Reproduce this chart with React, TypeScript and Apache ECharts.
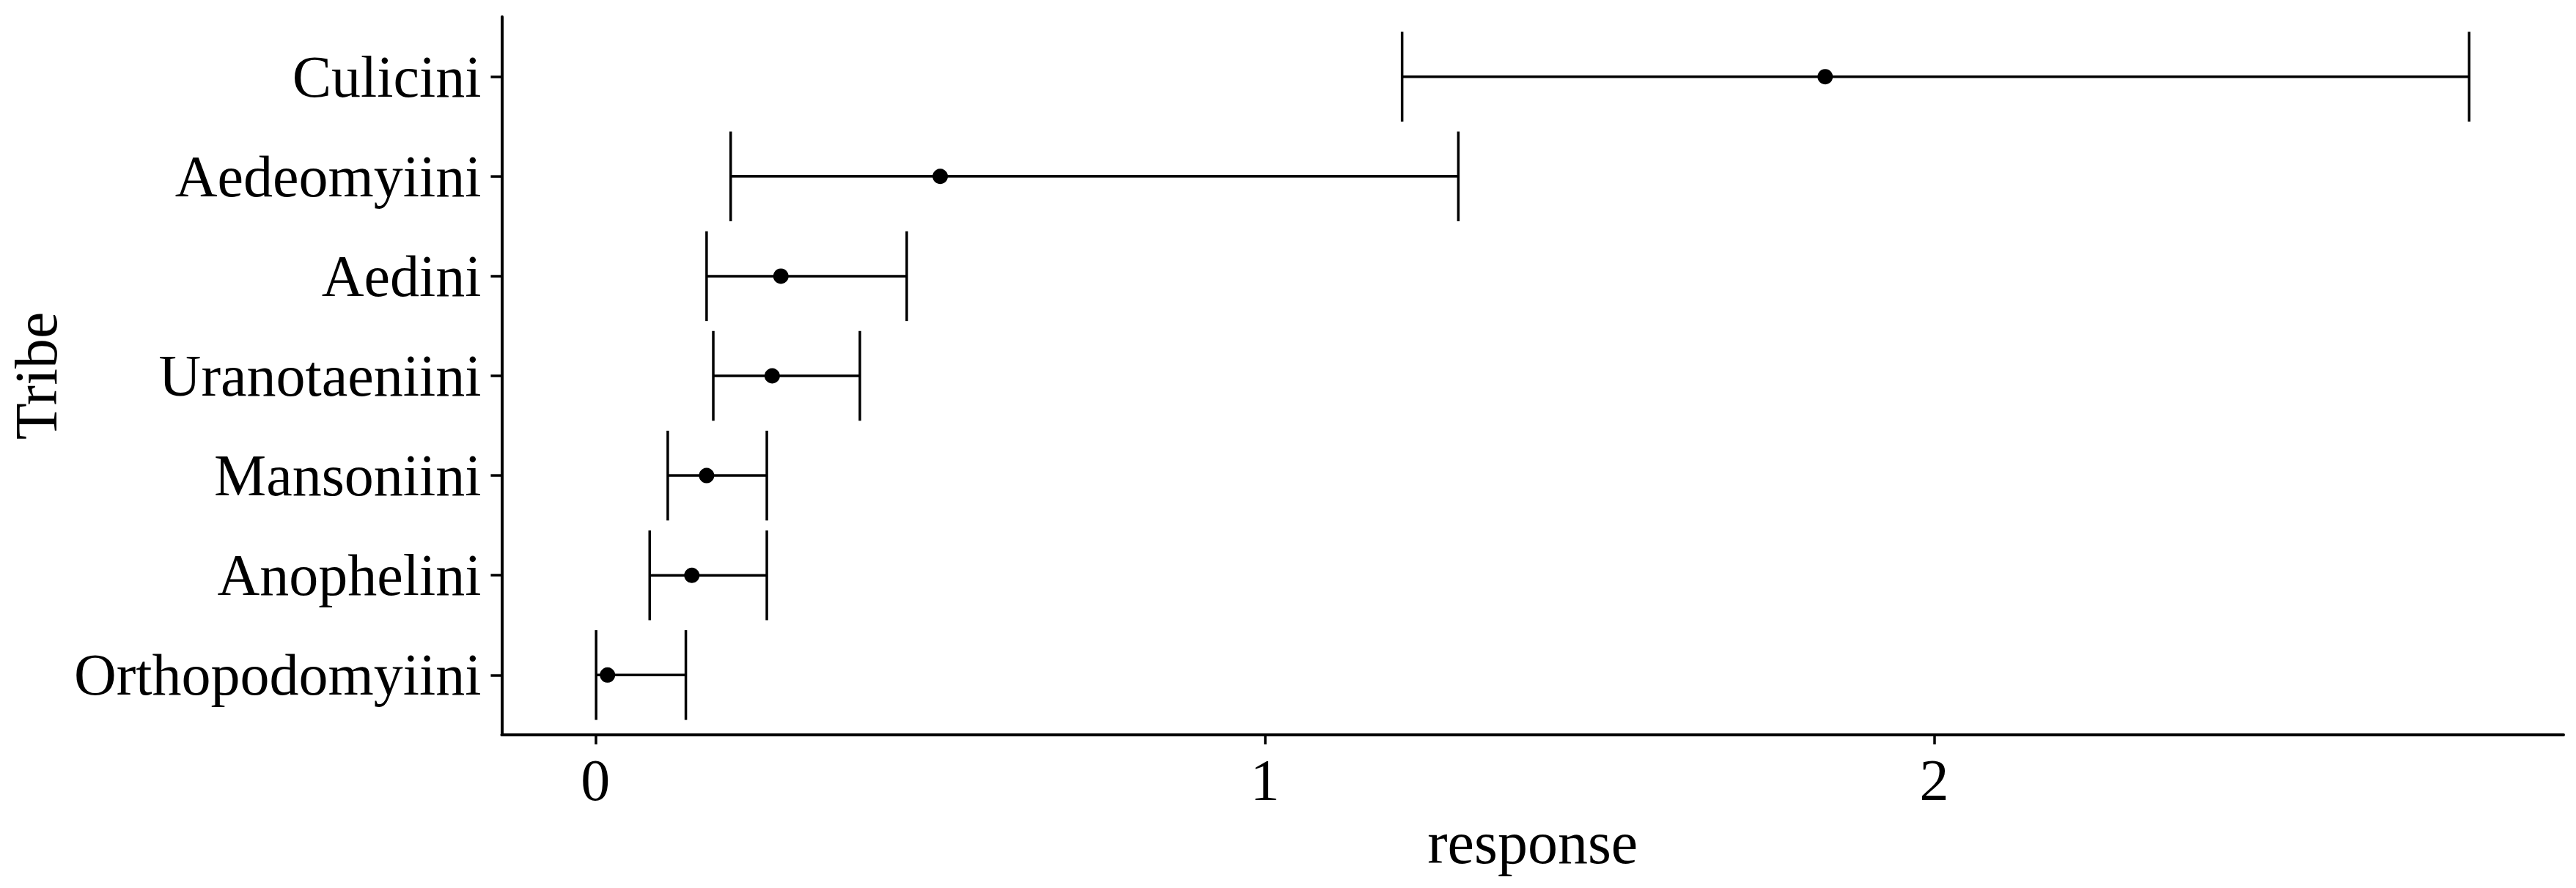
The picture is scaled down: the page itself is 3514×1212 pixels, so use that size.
import React, { useEffect, useRef } from "react";
import * as echarts from "echarts";

const tribes = ["Orthopodomyiini", "Anophelini", "Mansoniini", "Uranotaeniini", "Aedini", "Aedeomyiini", "Culicini"];
const estimate = [0.018, 0.144, 0.166, 0.264, 0.277, 0.515, 1.837];
const lower = [0.001, 0.081, 0.108, 0.176, 0.166, 0.202, 1.205];
const upper = [0.135, 0.256, 0.256, 0.395, 0.465, 1.289, 2.799];
const xTicks = [0, 1, 2];
const yTicks = [0, 1, 2, 3, 4, 5, 6];

const FONT = "'Times New Roman', 'Liberation Serif', serif";

export default function App() {
  const ref = useRef<HTMLDivElement>(null);
  useEffect(() => {
    if (!ref.current) return;
    const chart = echarts.init(ref.current, null, { renderer: "svg" });
    const errData = tribes.map((_, i) => [i, lower[i], upper[i]]);
    const ptData = tribes.map((_, i) => [estimate[i], i]);
    chart.setOption({
      animation: false,
      backgroundColor: "#ffffff",
      grid: { left: 681, right: 17, top: 23, bottom: 209, containLabel: false },
      xAxis: {
        type: "value",
        min: -0.14,
        max: 2.94,
        name: "response",
        nameLocation: "middle",
        nameGap: 104,
        nameTextStyle: { fontFamily: FONT, fontSize: 82, color: "#000" },
        axisLine: { show: true, onZero: false, lineStyle: { color: "#000", width: 4 } },
        axisTick: { show: true, length: 13, customValues: xTicks, lineStyle: { color: "#000", width: 3.5 } },
        axisLabel: { customValues: xTicks, fontFamily: FONT, fontSize: 80, color: "#000", margin: 22 },
        splitLine: { show: false },
      },
      yAxis: {
        type: "value",
        min: -0.6,
        max: 6.6,
        name: "Tribe",
        nameLocation: "middle",
        nameGap: 590,
        nameRotate: 90,
        nameTextStyle: { fontFamily: FONT, fontSize: 82, color: "#000" },
        axisLine: { show: true, onZero: false, lineStyle: { color: "#000", width: 4 } },
        axisTick: { show: true, length: 15, customValues: yTicks, lineStyle: { color: "#000", width: 3.5 } },
        axisLabel: {
          customValues: yTicks,
          fontFamily: FONT,
          fontSize: 80,
          color: "#000",
          margin: 28,
          formatter: (v: number) => tribes[Math.round(v)] ?? "",
        },
        splitLine: { show: false },
      },
      series: [
        {
          type: "custom",
          data: errData,
          encode: { x: [1, 2], y: 0 },
          renderItem: (params: any, api: any) => {
            const y = api.value(0);
            const lo = api.coord([api.value(1), y]);
            const hi = api.coord([api.value(2), y]);
            const h = api.size([0, 0.9])[1];
            const st = { stroke: "#000", lineWidth: 3.5, fill: "none" };
            return {
              type: "group",
              children: [
                { type: "line", shape: { x1: lo[0], y1: lo[1], x2: hi[0], y2: hi[1] }, style: st },
                { type: "line", shape: { x1: lo[0], y1: lo[1] - h / 2, x2: lo[0], y2: lo[1] + h / 2 }, style: st },
                { type: "line", shape: { x1: hi[0], y1: hi[1] - h / 2, x2: hi[0], y2: hi[1] + h / 2 }, style: st },
              ],
            };
          },
          z: 2,
        },
        {
          type: "scatter",
          data: ptData,
          symbol: "circle",
          symbolSize: 21,
          itemStyle: { color: "#000", opacity: 1 },
          z: 3,
        },
      ],
    });
    return () => chart.dispose();
  }, []);
  return <div ref={ref} style={{ position: "fixed", left: 0, top: 0, width: 3514, height: 1212, background: "#fff" }} />;
}
